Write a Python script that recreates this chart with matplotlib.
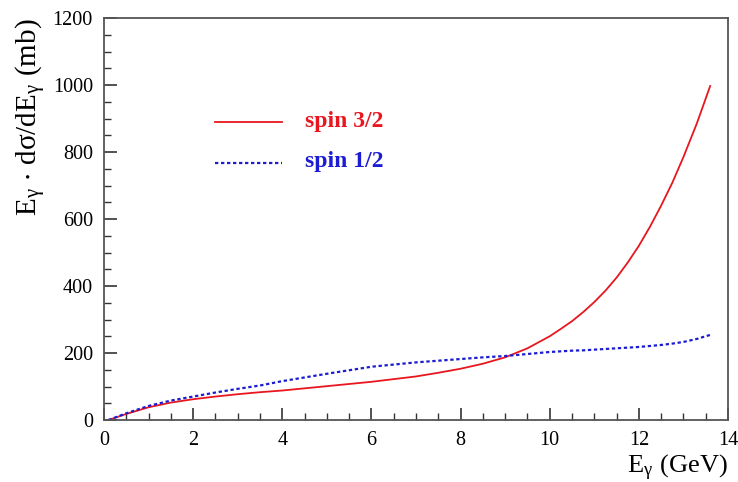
import matplotlib
matplotlib.use("Agg")
from matplotlib import pyplot as plt
from matplotlib.ticker import MultipleLocator

plt.rcParams["font.family"] = ["Liberation Serif", "DejaVu Serif"]
plt.rcParams["mathtext.fontset"] = "stix"

# photon energy (GeV) and E*dsigma/dE (mb)
e_gamma = [0.1, 0.5, 1, 1.5, 2, 2.5, 3, 3.5, 4, 5, 6, 7, 7.5, 8, 8.5, 9, 9.5,
           10, 10.25, 10.5, 10.75, 11, 11.25, 11.5, 11.75, 12, 12.25, 12.5,
           12.75, 13, 13.3, 13.6]
spin32 = [0, 18, 38, 52, 62, 70, 77, 83, 88, 101, 114, 130, 141, 153, 168, 187,
          214, 250, 272, 295, 322, 352, 386, 425, 470, 520, 577, 640,
          708, 785, 885, 997]
spin12 = [0, 20, 42, 58, 70, 82, 93, 103, 116, 138, 159, 172, 177, 182, 187, 191,
          197, 203, 205, 207, 208, 210, 212, 214, 216, 218, 221, 224,
          228, 233, 242, 254]

labels = ["spin 3/2", "spin 1/2"]
red = "#e8161e"
blue = "#1c1cd2"
dots = (0, (1.5, 1.2))

fig = plt.figure(figsize=(7.38, 4.82), dpi=100)
ax = fig.add_axes([104 / 738, 62 / 482, 624 / 738, 402 / 482])

ax.plot(e_gamma, spin32, color=red, lw=1.3)
ax.plot(e_gamma, spin12, color=blue, lw=1.6, ls=dots)

ax.set_xlim(0, 14)
ax.set_ylim(0, 1200)
ax.xaxis.set_major_locator(MultipleLocator(2))
ax.xaxis.set_minor_locator(MultipleLocator(0.5))
ax.yaxis.set_major_locator(MultipleLocator(200))
ax.yaxis.set_minor_locator(MultipleLocator(50))
ax.tick_params(which="both", direction="in", top=False, right=False,
               color="#333333", labelsize=14.5, pad=8)
ax.tick_params(which="major", length=9, width=1.2)
ax.tick_params(which="minor", length=5, width=1.0)
for s in ax.spines.values():
    s.set_color("#555555")
    s.set_linewidth(1.3)

ax.set_ylabel(r"E$_{\mathregular{γ}}$ $\cdot$ d$\mathregular{σ}$/dE$_{\mathregular{γ}}$ (mb)",
              fontsize=21, loc="top", labelpad=3)
ax.set_xlabel(r"E$_{\mathregular{γ}}$ (GeV)", fontsize=19, loc="right", labelpad=2)

# hand-placed legend like the original
ax.plot([2.5, 4.0], [890, 890], color=red, lw=1.3)
ax.plot([2.5, 4.0], [768, 768], color=blue, lw=1.6, ls=dots)
ax.text(4.5, 890, labels[0], color=red, fontsize=17, fontweight="bold", va="center")
ax.text(4.5, 772, labels[1], color=blue, fontsize=17, fontweight="bold", va="center")

fig.savefig("out.png", dpi=100)
